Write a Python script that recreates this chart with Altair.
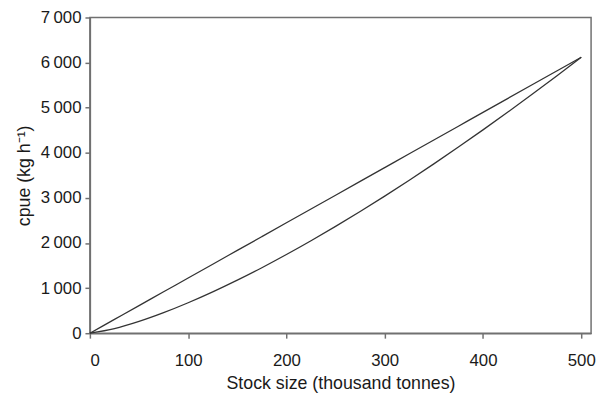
import altair as alt
import pandas as pd

stock = [0, 25, 50, 75, 100, 125, 150, 175, 200, 225, 250, 275, 300, 325, 350, 375, 400, 425, 450, 475, 500]
cpue_linear = [0, 306, 612, 918, 1224, 1530, 1836, 2142, 2448, 2754, 3060, 3366, 3672, 3978, 4284, 4590, 4896, 5202, 5508, 5814, 6120]
cpue_curved = [0, 101, 261, 455, 675, 916, 1176, 1452, 1744, 2050, 2368, 2698, 3040, 3392, 3755, 4127, 4508, 4898, 5297, 5704, 6120]

rows = []
for s, a, b in zip(stock, cpue_linear, cpue_curved):
    rows.append({"stock": s, "cpue": a, "model": "linear"})
    rows.append({"stock": s, "cpue": b, "model": "curved"})
df = pd.DataFrame(rows)

x_ticks = [0, 100, 200, 300, 400, 500]
y_ticks = [0, 1000, 2000, 3000, 4000, 5000, 6000, 7000]

chart = alt.Chart(df).mark_line(color="#333333", strokeWidth=1.3, interpolate="monotone").encode(
    x=alt.X("stock:Q", scale=alt.Scale(domain=[0, 510], nice=False, zero=True),
            axis=alt.Axis(values=x_ticks, title="Stock size (thousand tonnes)", grid=False,
                          tickSize=5, labelPadding=15, titlePadding=6, format="d")),
    y=alt.Y("cpue:Q", scale=alt.Scale(domain=[0, 7000], nice=False),
            axis=alt.Axis(values=y_ticks, title="cpue (kg h\u207b\u00b9)", grid=False,
                          tickSize=5, labelPadding=4, titlePadding=7,
                          labelExpr="replace(format(datum.value, ',d'), ',', '\u2009')")),
    detail="model:N",
).properties(
    width=508, height=320,
    autosize=alt.AutoSizeParams(type="none"),
    padding={"left": 83, "top": 7, "right": 6, "bottom": 60},
).configure_view(
    stroke="#707070", strokeWidth=1.5
).configure_axis(
    labelFont="Liberation Sans", titleFont="Liberation Sans",
    labelFontSize=17, titleFontSize=18, titleFontWeight="normal",
    labelColor="#1a1a1a", titleColor="#1a1a1a",
    domainColor="#707070", tickColor="#707070", domainWidth=1.5, tickWidth=1.5,
)

chart.save("out.html", embed_options={"renderer": "svg", "actions": False})
